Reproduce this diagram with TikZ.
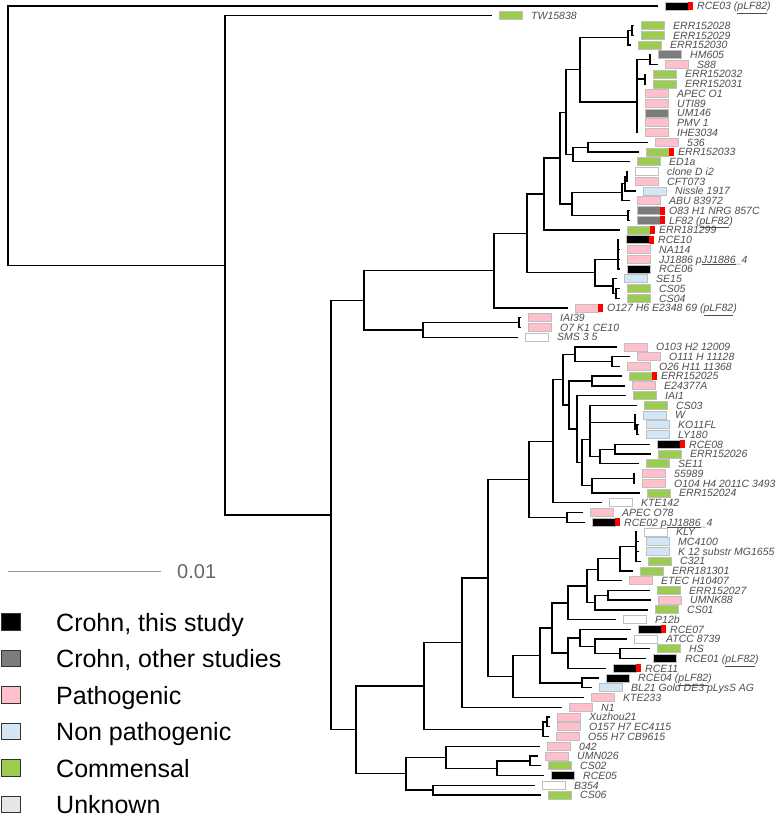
\documentclass[tikz,border=0pt]{standalone}
\usepackage{fontspec}
\setmainfont{Liberation Sans}
\usepackage{tikz}
\usetikzlibrary{positioning}

\definecolor{cT}{HTML}{000000}  % Crohn, this study
\definecolor{cO}{HTML}{7C7C7C}  % Crohn, other studies
\definecolor{cP}{HTML}{FFC0CB}  % Pathogenic
\definecolor{cN}{HTML}{D2E6F6}  % Non pathogenic
\definecolor{cC}{HTML}{9BCB4F}  % Commensal
\definecolor{cU}{HTML}{E6E6E6}  % Unknown
\definecolor{labgray}{HTML}{4D4D4D}

\tikzset{
  branch/.style={line width=1.3pt, black},
  tagbox/.style={draw=gray!50, line width=0.8pt, minimum width=23pt, minimum height=8pt,
                 inner sep=0pt, outer sep=0pt},
  redflag/.style={fill=red, minimum width=4.5pt, minimum height=8pt, inner sep=0pt, outer sep=0pt},
  leaflabel/.style={anchor=base west, inner sep=0pt, text=labgray,
                    font=\fontsize{10.5}{12}\selectfont\itshape},
  keybox/.style={draw=black!80, line width=0.9pt, minimum width=19.5pt, minimum height=16.5pt,
                 inner sep=0pt},
  keytext/.style={anchor=base west, inner sep=0pt, font=\fontsize{25}{30}\selectfont},
  scalebar/.style={draw=gray!85, line width=1pt},
  scaletext/.style={anchor=base west, inner sep=0pt, text=black!60, font=\fontsize{20}{24}\selectfont}
}

\begin{document}
\begin{tikzpicture}[x=1pt, y=-1pt]
    \useasboundingbox (0,0) rectangle (778,821);

    % leaves: number / tip x / colour / plasmid flag / label
    \foreach \n/\tx/\col/\pl/\lab in {
        1/658/cT/1/{RCE03 (\underline{pLF82})}, 2/492/cC/0/TW15838,
        3/634/cC/0/ERR152028, 4/634/cC/0/ERR152029, 5/631/cC/0/ERR152030,
        6/651/cO/0/HM605, 7/658/cP/0/S88, 8/646/cC/0/ERR152032, 9/646/cC/0/ERR152031,
        10/638/cP/0/APEC O1, 11/638/cP/0/UTI89, 12/638/cO/0/UM146, 13/638/cP/0/PMV 1,
        14/638/cP/0/IHE3034, 15/648/cP/0/536, 16/639/cC/1/ERR152033, 17/630/cC/0/ED1a,
        18/628/white/0/clone D i2, 19/628/cP/0/CFT073, 20/636/cN/0/Nissle 1917,
        21/630/cP/0/ABU 83972, 22/630/cO/1/O83 H1 NRG 857C, 23/630/cO/1/{LF82 (\underline{pLF82})},
        24/620/cC/1/ERR181299, 25/619/cT/1/RCE10, 26/620/cP/0/NA114,
        27/620/cP/0/{JJ1886 p\underline{JJ1886}\_4}, 28/620/cT/0/RCE06, 29/617/cN/0/SE15,
        30/620/cC/0/CS05, 31/620/cC/0/CS04, 32/568/cP/1/{O127 H6 E2348 69 (\underline{pLF82})},
        33/521/cP/0/IAI39, 34/521/cP/0/O7 K1 CE10, 35/518/white/0/SMS 3 5,
        36/617/cP/0/O103 H2 12009, 37/630/cP/0/O111 H 11128, 38/620/cP/0/O26 H11 11368,
        39/622/cC/1/ERR152025, 40/625/cP/0/E24377A, 41/626/cC/0/IAI1, 42/637/cC/0/CS03,
        43/636/cN/0/W, 44/639/cN/0/KO11FL, 45/639/cN/0/LY180, 46/650/cT/1/RCE08,
        47/651/cC/0/ERR152026, 48/639/cC/0/SE11, 49/635/cP/0/55989,
        50/635/cP/0/O104 H4 2011C 3493, 51/640/cC/0/ERR152024, 52/602/white/0/KTE142,
        53/583/cP/0/APEC O78, 54/585/cT/1/{RCE02 p\underline{JJ1886}\_4}, 55/637/white/0/KLY,
        56/639/cN/0/MC4100, 57/639/cN/0/K 12 substr MG1655, 58/641/cC/0/C321,
        59/633/cC/0/ERR181301, 60/622/cP/0/ETEC H10407, 61/650/cC/0/ERR152027,
        62/651/cP/0/UMNK88, 63/648/cC/0/CS01, 64/616/white/0/P12b, 65/631/cT/1/RCE07,
        66/627/white/0/ATCC 8739, 67/650/cC/0/HS, 68/646/cT/0/{RCE01 (\underline{pLF82})},
        69/606/cT/1/RCE11, 70/599/cT/0/{RCE04 (\underline{pLF82})},
        71/592/cN/0/BL21 Gold DE3 pLysS AG, 72/584/cP/0/KTE233, 73/562/cP/0/N1,
        74/550/cP/0/Xuzhou21, 75/550/cP/0/O157 H7 EC4115, 76/549/cP/0/O55 H7 CB9615,
        77/540/cP/0/042, 78/538/cP/0/UMN026, 79/541/cC/0/CS02, 80/544/cT/0/RCE05,
        81/535/white/0/B354, 82/541/cC/0/CS06}{
        \pgfmathsetmacro\ty{6+(\n-1)*9.74}
        \coordinate (t\n) at (\tx,\ty);
        \node[tagbox, fill=\col, right=7pt of t\n] (b\n) {};
        \ifnum\pl=1 \node[redflag, right=0pt of b\n] (f\n) {}; \fi
        \node[leaflabel] (l\n) at ([xshift=39pt, yshift=-3.8pt]t\n) {\lab};
    }

    % inner nodes of the tree
    \foreach \c/\x/\y in {
        root/8/135.7, n225/225/265.4, n331/331/515.0, n364/364/300.2, n494/494/270.6,
        n527/527/233.3, n544/544/194.0, n560/560/158.0, n566/566/112.2, n580/580/69.8,
        n628/628/37.7, n632/632/30.4, n637/637/102.0, n650/650/59.6, n645/645/79.1,
        n573/573/154.5, n588/588/147.2, n572/572/203.9, n622/622/192.3, n625/625/183.8,
        n627/627/176.5, n629/628/215.4, n595/595/272.6, n618/618/259.2, n613/613/286.0,
        n616/616/293.3, n423/423/329.9, n519/519/322.6,
        n356/356/729.8, n424/424/685.9, n462/462/642.6, n488/488/577.9, n529/529/479.3,
        n553/553/441.2, n563/563/379.6, n575/575/354.2, n612/612/361.5, n569/569/405.0,
        n592/592/381.0, n577/577/429.1, n582/582/462.5, n590/590/439.4, nW/635/422.4,
        n638/637/429.7, n600/600/456.5, n615/615/449.2, n592b/592/485.7, n634/634/478.4,
        n567/567/517.4, n513/513/676.5, n540/540/655.5, n552/552/628.0, n568a/568/602.9,
        n587/587/586.1, n598/598/569.7, n620/620/558.7, n636/636/546.6, n595b/595/602.6,
        n608/608/595.3, n568b/568/653.1, n580c/580/637.9, n595c/595/646.4, n620c/620/653.7,
        n582b/582/682.9, n543/543/729.2, n548/547/721.9, n406/406/773.6, n446/446/757.2,
        n497/497/768.2, n530/530/760.9, n433/433/790.1}
        \coordinate (\c) at (\x,\y);

    % branches, parent |- child
    \foreach \p/\c in {
        root/t1, root/n225, n225/t2, n225/n331, n331/n364, n331/n356,
        n364/n494, n364/n423, n494/n527, n494/t32, n527/n544, n527/n595,
        n544/n560, n544/t24, n560/n566, n560/n572, n566/n580, n566/n573,
        n580/n628, n580/n637, n628/n632, n628/t5, n632/t3, n632/t4,
        n637/n650, n637/n645, n637/t10, n637/t11, n637/t12, n637/t13, n637/t14,
        n650/t6, n650/t7, n645/t8, n645/t9, n573/n588, n573/t17, n588/t15, n588/t16,
        n572/n622, n572/n629, n622/n625, n622/t21, n625/n627, n625/t20,
        n627/t18, n627/t19, n629/t22, n629/t23, n595/n618, n595/n613,
        n618/t25, n618/t26, n618/t27, n618/t28, n613/t29, n613/n616,
        n616/t30, n616/t31, n423/n519, n423/t35, n519/t33, n519/t34,
        n356/n424, n356/n406, n424/n462, n424/n543, n462/n488, n462/t73,
        n488/n529, n488/n513, n529/n553, n529/n567, n553/n563, n553/t52,
        n563/n575, n563/n569, n575/t36, n575/n612, n612/t37, n612/t38,
        n569/n592, n569/n577, n592/t39, n592/t40, n577/t41, n577/n582,
        n582/n590, n582/n592b, n590/t42, n590/nW, n590/n600, nW/t43, nW/n638,
        n638/t44, n638/t45, n600/n615, n600/t48, n615/t46, n615/t47,
        n592b/n634, n592b/t51, n634/t49, n634/t50, n567/t53, n567/t54,
        n513/n540, n513/t72, n540/n552, n540/n582b, n552/n568a, n552/n568b,
        n568a/n587, n568a/t64, n587/n598, n587/n595b, n598/n620, n598/t60,
        n620/n636, n620/t59, n636/t55, n636/t56, n636/t57, n636/t58,
        n595b/n608, n595b/t63, n608/t61, n608/t62, n568b/n580c, n568b/t69,
        n580c/t65, n580c/n595c, n595c/t66, n595c/n620c, n620c/t67, n620c/t68,
        n582b/t70, n582b/t71, n543/n548, n543/t76, n548/t74, n548/t75,
        n406/n446, n406/n433, n446/t77, n446/n497, n497/n530, n497/t80,
        n530/t78, n530/t79, n433/t81, n433/t82}
        \draw[branch] (\p) |- (\c);

    % scale bar
    \coordinate (sbL) at (8,571);
    \coordinate (sbR) at (161,571);
    \draw[scalebar] (sbL) -- (sbR);
    \node[scaletext] (sbT) at (177,578.2) {0.01};

    % legend
    \foreach \k/\col/\txt in {0/cT/{Crohn, this study}, 1/cO/{Crohn, other studies},
                              2/cP/Pathogenic, 3/cN/{Non pathogenic},
                              4/cC/Commensal, 5/cU/Unknown}{
        \pgfmathsetmacro\ky{622+\k*36.5}
        \node[keybox, fill=\col] (k\k) at (10.7,\ky) {};
        \node[keytext] (kt\k) at (56,\ky+9.2) {\txt};
    }
\end{tikzpicture}
\end{document}
